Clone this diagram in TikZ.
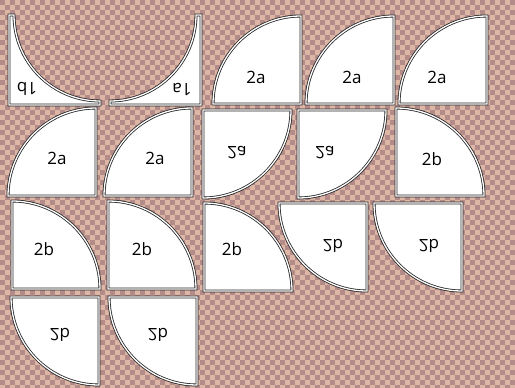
\documentclass[tikz,border=0pt]{standalone}
\usepackage{fontspec}
\setmainfont{Open Sans}
\definecolor{tilelight}{HTML}{DDB6A6}
\definecolor{tiledark}{HTML}{B38C8A}

\begin{document}
\begin{tikzpicture}[x=1pt,y=-1pt,
  piece/.style={fill=white,draw=black!85,line width=0.8pt,double=white,double distance=1.3pt},
  lbl/.style={font=\fontsize{17}{17}\selectfont,inner sep=0pt}]
  \useasboundingbox (0,0) rectangle (515,388);
  % Background
  \fill[tilelight] (0,0) rectangle (515,388);
  \foreach \i in {0,...,103} {
    \pgfmathsetmacro\ph{mod(\i,2)*5}
    \draw[tiledark,line width=5pt,dash pattern=on 5pt off 5pt,dash phase=\ph pt]
      (2.5+5*\i,0) -- (2.5+5*\i,388);
  }
  % Row 1
  \draw[piece] (9,15) -- (9,105) -- (100,105) -- (100,101) arc[start angle=90,end angle=180,radius=86] -- cycle;
  \draw[piece] (201,15) -- (201,105) -- (110,105) -- (110,101) arc[start angle=90,end angle=0,radius=86] -- cycle;
  \draw[piece] (301,104) -- ++(-88,0) arc[start angle=180,end angle=270,radius=88] -- cycle;
  \draw[piece] (394,104) -- ++(-88,0) arc[start angle=180,end angle=270,radius=88] -- cycle;
  \draw[piece] (487,104) -- ++(-88,0) arc[start angle=180,end angle=270,radius=88] -- cycle;
  \node[lbl,rotate=180] (lab1b) at (27,89) {1b};
  \node[lbl,rotate=180] (lab1a) at (182,89) {1a};
  \node[lbl] (lab2a1) at (256,77) {2a};
  \node[lbl] (lab2a2) at (352,77) {2a};
  \node[lbl] (lab2a3) at (437,77) {2a};
  % Row 2
  \draw[piece] (96,196) -- ++(-88,0) arc[start angle=180,end angle=270,radius=88] -- cycle;
  \draw[piece] (192,196) -- ++(-88,0) arc[start angle=180,end angle=270,radius=88] -- cycle;
  \draw[piece] (203,110) -- ++(88,0) arc[start angle=0,end angle=90,radius=88] -- cycle;
  \draw[piece] (298,110) -- ++(88,0) arc[start angle=0,end angle=90,radius=88] -- cycle;
  \draw[piece] (396,196) -- ++(88,0) arc[start angle=0,end angle=-90,radius=88] -- cycle;
  \node[lbl] (lab2a4) at (57,158) {2a};
  \node[lbl] (lab2a5) at (155,158) {2a};
  \node[lbl,yscale=-1] (lab2a6) at (237,153) {2a};
  \node[lbl,yscale=-1] (lab2a7) at (325,153) {2a};
  \node[lbl] (lab2b1) at (432,159) {2b};
  % Row 3
  \draw[piece] (12,289) -- ++(88,0) arc[start angle=0,end angle=-90,radius=88] -- cycle;
  \draw[piece] (108,289) -- ++(88,0) arc[start angle=0,end angle=-90,radius=88] -- cycle;
  \draw[piece] (204,291) -- ++(88,0) arc[start angle=0,end angle=-90,radius=88] -- cycle;
  \draw[piece] (367,203) -- ++(-88,0) arc[start angle=180,end angle=90,radius=88] -- cycle;
  \draw[piece] (462,203) -- ++(-88,0) arc[start angle=180,end angle=90,radius=88] -- cycle;
  \node[lbl] (lab2b2) at (44,249) {2b};
  \node[lbl] (lab2b3) at (142,249) {2b};
  \node[lbl] (lab2b4) at (232,249) {2b};
  \node[lbl,yscale=-1] (lab2b5) at (333,246) {2b};
  \node[lbl,yscale=-1] (lab2b6) at (429,246) {2b};
  % Row 4
  \draw[piece] (99,297) -- ++(-88,0) arc[start angle=180,end angle=90,radius=88] -- cycle;
  \draw[piece] (197,297) -- ++(-88,0) arc[start angle=180,end angle=90,radius=88] -- cycle;
  \node[lbl,yscale=-1] (lab2b7) at (60,335) {2b};
  \node[lbl,yscale=-1] (lab2b8) at (158,335) {2b};
\end{tikzpicture}
\end{document}
